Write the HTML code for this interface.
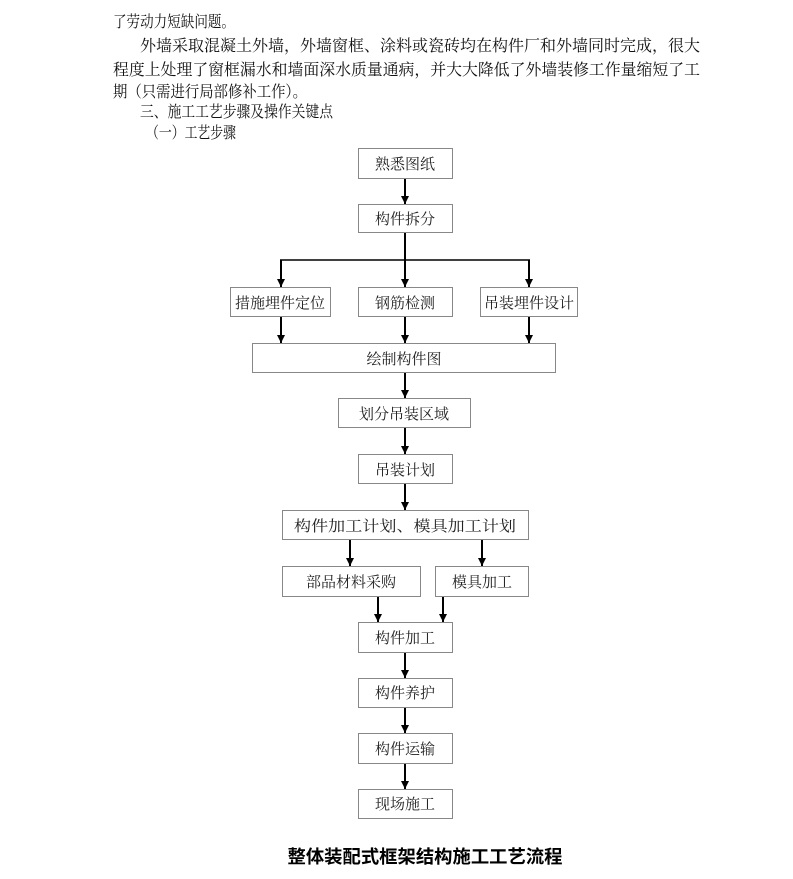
<!DOCTYPE html>
<html><head><meta charset="utf-8"><style>
html,body{margin:0;padding:0;background:#fff;}
svg{display:block;font-family:"Liberation Serif","Noto Serif CJK SC","Noto Sans CJK SC",serif;}
</style></head><body>
<svg width="793" height="879" viewBox="0 0 793 879" xmlns="http://www.w3.org/2000/svg">
<defs><marker id="a" markerWidth="9" markerHeight="9" refX="8" refY="4" orient="auto" markerUnits="userSpaceOnUse"><path d="M0,0 L8,4 L0,8 Z" fill="#000"/></marker></defs>
<g font-size="16" fill="#111">
<text x="113" y="27" textLength="122" lengthAdjust="spacingAndGlyphs">了劳动力短缺问题。</text>
<text x="140" y="51" textLength="560" lengthAdjust="spacingAndGlyphs">外墙采取混凝土外墙，外墙窗框、涂料或瓷砖均在构件厂和外墙同时完成，很大</text>
<text x="113" y="75" textLength="587" lengthAdjust="spacingAndGlyphs">程度上处理了窗框漏水和墙面深水质量通病，并大大降低了外墙装修工作量缩短了工</text>
<text x="113" y="97" textLength="194" lengthAdjust="spacingAndGlyphs">期（只需进行局部修补工作）。</text>
<text x="140" y="117" textLength="193" lengthAdjust="spacingAndGlyphs">三、施工工艺步骤及操作关键点</text>
<text x="146" y="138" textLength="90" lengthAdjust="spacingAndGlyphs">（一）工艺步骤</text>
</g>
<g fill="#fff" stroke="#888" stroke-width="1">
<rect x="358.5" y="148.5" width="94" height="30"/>
<rect x="358.5" y="204.5" width="94" height="28"/>
<rect x="230.5" y="287.5" width="100" height="29"/>
<rect x="358.5" y="287.5" width="94" height="29"/>
<rect x="480.5" y="287.5" width="97" height="29"/>
<rect x="252.5" y="343.5" width="303" height="29"/>
<rect x="338.5" y="398.5" width="132" height="29"/>
<rect x="358.5" y="454.5" width="94" height="29"/>
<rect x="282.5" y="510.5" width="246" height="29"/>
<rect x="282.5" y="566.5" width="138" height="30"/>
<rect x="435.5" y="566.5" width="93" height="30"/>
<rect x="358.5" y="622.5" width="94" height="30"/>
<rect x="358.5" y="678.5" width="94" height="29"/>
<rect x="358.5" y="733.5" width="94" height="30"/>
<rect x="358.5" y="789.5" width="94" height="29"/>
</g>
<g stroke="#000" stroke-width="2" fill="none" marker-end="url(#a)">
<line x1="405" y1="179" x2="405" y2="204"/>
<line x1="405" y1="233" x2="405" y2="287"/>
<line x1="281" y1="260" x2="281" y2="287"/>
<line x1="529" y1="260" x2="529" y2="287"/>
<line x1="281" y1="317" x2="281" y2="343"/>
<line x1="405" y1="317" x2="405" y2="343"/>
<line x1="529" y1="317" x2="529" y2="343"/>
<line x1="405" y1="373" x2="405" y2="398"/>
<line x1="405" y1="428" x2="405" y2="454"/>
<line x1="405" y1="484" x2="405" y2="510"/>
<line x1="350" y1="540" x2="350" y2="566"/>
<line x1="482" y1="540" x2="482" y2="566"/>
<line x1="378" y1="597" x2="378" y2="622"/>
<line x1="443" y1="597" x2="443" y2="622"/>
<line x1="405" y1="653" x2="405" y2="678"/>
<line x1="405" y1="708" x2="405" y2="733"/>
<line x1="405" y1="764" x2="405" y2="789"/>
</g>
<line x1="280" y1="260" x2="530" y2="260" stroke="#000" stroke-width="1.5"/>
<g font-size="15" fill="#222" text-anchor="middle">
<text x="405" y="169">熟悉图纸</text>
<text x="405" y="224">构件拆分</text>
<text x="280" y="308">措施埋件定位</text>
<text x="405" y="308">钢筋检测</text>
<text x="529" y="308">吊装埋件设计</text>
<text x="404" y="364">绘制构件图</text>
<text x="404" y="419">划分吊装区域</text>
<text x="405" y="475">吊装计划</text>
<text x="405" y="531" textLength="222" lengthAdjust="spacingAndGlyphs">构件加工计划、模具加工计划</text>
<text x="351" y="587">部品材料采购</text>
<text x="482" y="587">模具加工</text>
<text x="405" y="643">构件加工</text>
<text x="405" y="698">构件养护</text>
<text x="405" y="754">构件运输</text>
<text x="405" y="809">现场施工</text>
</g>
<text x="425" y="863" font-size="18" font-weight="bold" text-anchor="middle" fill="#000" textLength="275" lengthAdjust="spacingAndGlyphs" font-family="'Noto Sans CJK SC',sans-serif">整体装配式框架结构施工工艺流程</text>
</svg>
</body></html>
